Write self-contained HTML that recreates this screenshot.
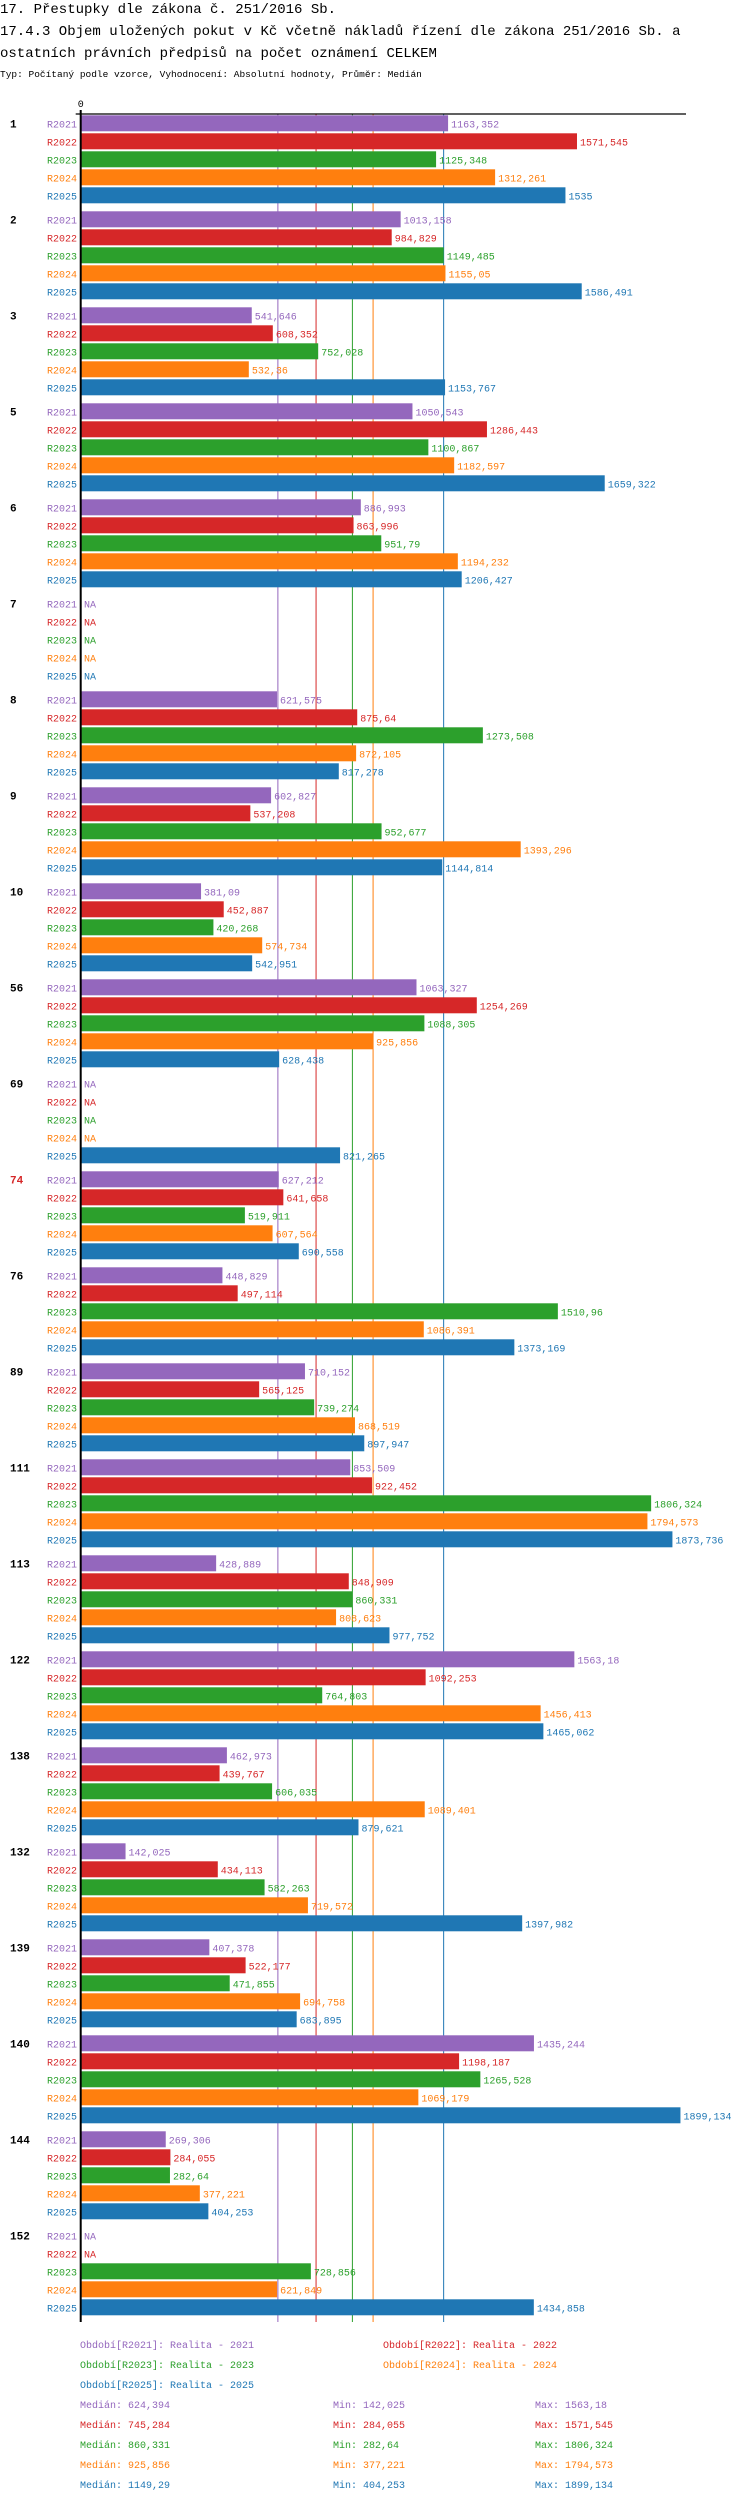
<!DOCTYPE html>
<html><head><meta charset="utf-8"><style>
html,body{margin:0;padding:0;background:#fff;}
svg{display:block;font-family:"Liberation Mono",monospace;}
</style></head><body>
<svg id="chart" width="750" height="2502" viewBox="0 0 750 2502" xmlns="http://www.w3.org/2000/svg">
<text x="0" y="13" font-size="14" fill="#000">17. Přestupky dle zákona č. 251/2016 Sb.</text>
<text x="0" y="35" font-size="14" fill="#000">17.4.3 Objem uložených pokut v Kč včetně nákladů řízení dle zákona 251/2016 Sb. a</text>
<text x="0" y="57" font-size="14" fill="#000"> ostatních právních předpisů na počet oznámení CELKEM</text>
<text x="0" y="77" font-size="9.5" fill="#000">Typ: Počítaný podle vzorce, Vyhodnocení: Absolutní hodnoty, Průměr: Medián</text>
<g id="plot"></g>
<g id="legend"></g>
</svg>
<script>
const groups = ["1","2","3","5","6","7","8","9","10","56","69","74","76","89","111","113","122","138","132","139","140","144","152"];
const seriesNames = ["R2021","R2022","R2023","R2024","R2025"];
const r2021 = [1163.352,1013.158,541.646,1050.543,886.993,null,621.575,602.827,381.09,1063.327,null,627.212,448.829,710.152,853.509,428.889,1563.18,462.973,142.025,407.378,1435.244,269.306,null];
const r2022 = [1571.545,984.829,608.352,1286.443,863.996,null,875.64,537.208,452.887,1254.269,null,641.658,497.114,565.125,922.452,848.909,1092.253,439.767,434.113,522.177,1198.187,284.055,null];
const r2023 = [1125.348,1149.485,752.028,1100.867,951.79,null,1273.508,952.677,420.268,1088.305,null,519.911,1510.96,739.274,1806.324,860.331,764.803,606.035,582.263,471.855,1265.528,282.64,728.856];
const r2024 = [1312.261,1155.05,532.36,1182.597,1194.232,null,872.105,1393.296,574.734,925.856,null,607.564,1086.391,868.519,1794.573,808.623,1456.413,1089.401,719.572,694.758,1069.179,377.221,621.849];
const r2025 = [1535,1586.491,1153.767,1659.322,1206.427,null,817.278,1144.814,542.951,628.438,821.265,690.558,1373.169,897.947,1873.736,977.752,1465.062,879.621,1397.982,683.895,1899.134,404.253,1434.858];
const medians = [624.394,745.284,860.331,925.856,1149.29];
const mins = [142.025,284.055,282.64,377.221,404.253];
const maxs = [1563.18,1571.545,1806.324,1794.573,1899.134];
const medianLabels = ["624,394","745,284","860,331","925,856","1149,29"];
const minLabels = ["142,025","284,055","282,64","377,221","404,253"];
const maxLabels = ["1563,18","1571,545","1806,324","1794,573","1899,134"];
const redGroups = ["74"];

const series = [r2021,r2022,r2023,r2024,r2025];
const colors = ["#9467bd","#d62728","#2ca02c","#ff7f0e","#1f77b4"];
const NS = "http://www.w3.org/2000/svg";
const X0 = 80.7, KX = 0.3158;
const xs = v => X0 + v * KX;
const TOP = 115.3, GP = 96, BP = 18, BH = 16;
const ys = (g, s) => TOP + g * GP + s * BP;
const AXIS_Y = 114, AXIS_END = 2322;
const fmt = v => String(v).replace('.', ',');
const plot = document.getElementById('plot');
function mk(tag, attrs, parent) {
  const e = document.createElementNS(NS, tag);
  for (const k in attrs) e.setAttribute(k, attrs[k]);
  parent.appendChild(e);
  return e;
}
medians.forEach((m, i) => {
  const l = mk('line', {x1: xs(m), x2: xs(m), y1: AXIS_Y, y2: AXIS_END, stroke: colors[i], 'stroke-width': 1}, plot);
  
  
});
groups.forEach((g, gi) => {
  const gl = mk('text', {x: 10, y: ys(gi, 0) + 12, 'font-size': 11, 'font-weight': 'bold', fill: redGroups.includes(g) ? '#d62728' : '#000'}, plot);
  gl.textContent = g;
  
  
  series.forEach((arr, si) => {
    const y = ys(gi, si);
    const cl = mk('text', {x: 77, y: y + 12, 'font-size': 10, fill: colors[si], 'text-anchor': 'end'}, plot);
    cl.textContent = seriesNames[si];
    
    
    const v = arr[gi];
    if (v === null) {
      const na = mk('text', {x: 84, y: y + 12, 'font-size': 10, fill: colors[si]}, plot);
      na.textContent = 'NA';
      
      
      return;
    }
    const r = mk('rect', {x: X0, y: y, width: xs(v) - X0, height: BH, fill: colors[si]}, plot);
    
    
    const t = mk('text', {x: xs(v) + 3, y: y + 12, 'font-size': 10, fill: colors[si]}, plot);
    t.textContent = fmt(v);
    
    
  });
});
const xa = mk('line', {x1: X0 - 5, x2: 686, y1: AXIS_Y, y2: AXIS_Y, stroke: '#000', 'stroke-width': 1.3}, plot);


const ya = mk('line', {x1: X0, x2: X0, y1: AXIS_Y - 4, y2: AXIS_END, stroke: '#000', 'stroke-width': 2}, plot);


const zl = mk('text', {x: X0, y: 107, 'font-size': 10, fill: '#000', 'text-anchor': 'middle'}, plot);
zl.textContent = '0';


const leg = document.getElementById('legend');
const legPos = [[80,2348],[383,2348],[80,2368],[383,2368],[80,2388]];
seriesNames.forEach((n, i) => {
  const t = mk('text', {x: legPos[i][0], y: legPos[i][1], 'font-size': 10, fill: colors[i]}, leg);
  t.textContent = 'Období[' + n + ']: Realita - ' + n.slice(1);
  
  
  const yy = 2408 + i * 20;
  const a = mk('text', {x: 80, y: yy, 'font-size': 10, fill: colors[i]}, leg);
  a.textContent = 'Medián: ' + medianLabels[i];
  
  
  const b = mk('text', {x: 333, y: yy, 'font-size': 10, fill: colors[i]}, leg);
  b.textContent = 'Min: ' + minLabels[i];
  
  
  const c = mk('text', {x: 535, y: yy, 'font-size': 10, fill: colors[i]}, leg);
  c.textContent = 'Max: ' + maxLabels[i];
  
  
});
</script>
</body></html>
